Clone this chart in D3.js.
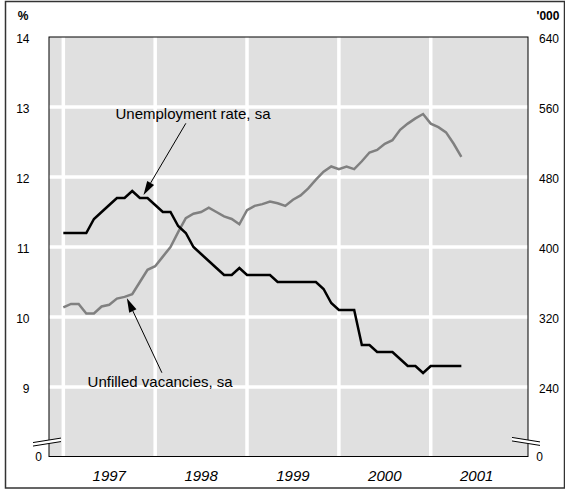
<!DOCTYPE html>
<html><head><meta charset="utf-8">
<script src="https://cdn.jsdelivr.net/npm/d3@7"></script>
<style>body{margin:0;background:#fff} svg{display:block} text{font-family:"Liberation Sans",Arial,sans-serif;fill:#000}</style>
</head><body><svg id="c" width="565" height="491"></svg>
<script>
// Monthly data, January 1997 to May 2001
const startYear = 1997;
const unemployment = [
  11.2,11.2,11.2,11.2,11.4,11.5,11.6,11.7,11.7,11.8,11.7,11.7,
  11.6,11.5,11.5,11.3,11.2,11.0,10.9,10.8,10.7,10.6,10.6,10.7,
  10.6,10.6,10.6,10.6,10.5,10.5,10.5,10.5,10.5,10.5,10.4,10.2,
  10.1,10.1,10.1,9.6,9.6,9.5,9.5,9.5,9.4,9.3,9.3,9.2,
  9.3,9.3,9.3,9.3,9.3
];
const vacancies = [
  331,335,335,324,324,332,334,341,343,346,360,374,
  378,389,400,417,433,438,440,445,440,435,432,426,
  442,447,449,452,450,447,454,459,467,477,486,492,
  489,492,489,498,508,511,518,522,534,541,547,552,
  541,537,531,518,503
];
const leftTicks = [9,10,11,12,13,14];
const rightTicks = [240,320,400,480,560,640];
const yearLabels = [1997,1998,1999,2000,2001];
const gridYears = [1997,1998,1999,2000,2001];
const leftDomain = [8,14];
const rightDomain = [160,640];
const xDomain = [1996.844, 2002.059];
const leftUnit = "%";
const rightUnit = "'000";
const annotations = [
  {text:"Unemployment rate, sa", tx:1998.412, ty:12.83, from:[1998.334,12.767], to:[1997.873,11.743]},
  {text:"Unfilled vacancies, sa", tx:1998.054, ty:8.996, from:[1998.073,9.204], to:[1997.692,10.267]}
];

const svg = d3.select('#c');
const P = {l:49, r:528, t:37, b:457};
const x = d3.scaleLinear().domain(xDomain).range([P.l, P.r]);
const yL = d3.scaleLinear().domain(leftDomain).range([P.b, P.t]);
const yR = d3.scaleLinear().domain(rightDomain).range([P.b, P.t]);
const tOf = i => startYear + i/12;

// outer frame
svg.append('rect').attr('x',5.5).attr('y',1.5).attr('width',559).attr('height',486.5)
  .attr('fill','none').attr('stroke','#333').attr('stroke-width',1.5);

// plot background
svg.append('rect').attr('x',P.l).attr('y',P.t).attr('width',P.r-P.l).attr('height',P.b-P.t-0.5)
  .attr('fill','#e0e0e0');

// grid
const g = svg.append('g');
g.selectAll('.hg').data(leftTicks.filter(d=>d<leftDomain[1])).enter().append('line')
  .attr('x1',P.l).attr('x2',P.r).attr('y1',d=>yL(d)).attr('y2',d=>yL(d))
  .attr('stroke','#fff').attr('stroke-width',3.5);
g.selectAll('.vg').data(gridYears).enter().append('line')
  .attr('x1',d=>x(d)).attr('x2',d=>x(d)).attr('y1',P.t).attr('y2',P.b)
  .attr('stroke','#fff').attr('stroke-width',3.5);

// lines
const lineU = d3.line().x((d,i)=>x(tOf(i))).y(d=>yL(d));
const lineV = d3.line().x((d,i)=>x(tOf(i))).y(d=>yR(d));
svg.append('path').attr('d',lineV(vacancies)).attr('fill','none').attr('stroke','#808080').attr('stroke-width',2.5);
svg.append('path').attr('d',lineU(unemployment)).attr('fill','none').attr('stroke','#000').attr('stroke-width',2.5);

// plot frame
svg.append('rect').attr('x',P.l).attr('y',P.t).attr('width',P.r-P.l).attr('height',P.b-P.t-0.5)
  .attr('fill','none').attr('stroke','#000').attr('stroke-width',1);

// axis breaks
function brk(cx, cy, dir){
  const w1 = 16, w2 = 12;
  const s = 0.16*dir;
  const gap = 3.5;
  const p = (dx,off)=>[cx+dx, cy - s*dx + off];
  const a = p(-w1,0), b = p(w2,0), c = p(w2,gap), d = p(-w1,gap);
  svg.append('polygon').attr('points',[a,b,c,d].map(q=>q.join(',')).join(' ')).attr('fill','#fff');
  [[a,b],[d,c]].forEach(([u,v])=>svg.append('line').attr('x1',u[0]).attr('y1',u[1]).attr('x2',v[0]).attr('y2',v[1])
    .attr('stroke','#000').attr('stroke-width',1));
}
brk(P.l, 440, 1);
brk(P.r, 440, -1);

// tick labels
const fs = 12;
svg.selectAll('.lt').data(leftTicks).enter().append('text')
  .attr('x',29.5).attr('y',d=>yL(d)+1.5).attr('dy','0.35em').attr('text-anchor','end')
  .attr('font-size',fs).text(d=>d);
svg.selectAll('.rt').data(rightTicks).enter().append('text')
  .attr('x',539).attr('y',d=>yR(d)+1.5).attr('dy','0.35em').attr('text-anchor','start')
  .attr('font-size',fs).text(d=>d);
svg.append('text').attr('x',38.7).attr('y',yL(leftDomain[0])).attr('dy','0.35em').attr('text-anchor','middle').attr('font-size',fs).text('0');
svg.append('text').attr('x',539.5).attr('y',yR(rightDomain[0])-0.5).attr('dy','0.35em').attr('text-anchor','middle').attr('font-size',fs).text('0');
svg.append('text').attr('x',23).attr('y',16).attr('dy','0.35em').attr('text-anchor','middle').attr('font-size',fs).attr('font-weight','bold').text(leftUnit);
svg.append('text').attr('x',548).attr('y',16).attr('dy','0.35em').attr('text-anchor','middle').attr('font-size',fs).attr('font-weight','bold').text(rightUnit);

// year labels
svg.selectAll('.yl').data(yearLabels).enter().append('text')
  .attr('x',d=>x(d+0.5)).attr('y',476).attr('dy','0.35em').attr('text-anchor','middle')
  .attr('font-size',15).attr('font-style','italic').text(d=>d);

// annotations
annotations.forEach(a=>{
  svg.append('text').attr('x',x(a.tx)).attr('y',yL(a.ty)).attr('text-anchor','middle').attr('font-size',15).text(a.text);
  const x1=x(a.from[0]), y1=yL(a.from[1]), x2=x(a.to[0]), y2=yL(a.to[1]);
  const ang = Math.atan2(y2-y1, x2-x1), L=14, H=4;
  const bx = x2 - L*Math.cos(ang), by = y2 - L*Math.sin(ang);
  svg.append('line').attr('x1',x1).attr('y1',y1).attr('x2',bx).attr('y2',by).attr('stroke','#000').attr('stroke-width',1);
  const pts=[[x2,y2],[bx + H*Math.sin(ang), by - H*Math.cos(ang)],[bx - H*Math.sin(ang), by + H*Math.cos(ang)]];
  svg.append('polygon').attr('points',pts.map(q=>q.join(',')).join(' ')).attr('fill','#000');
});
</script></body></html>
